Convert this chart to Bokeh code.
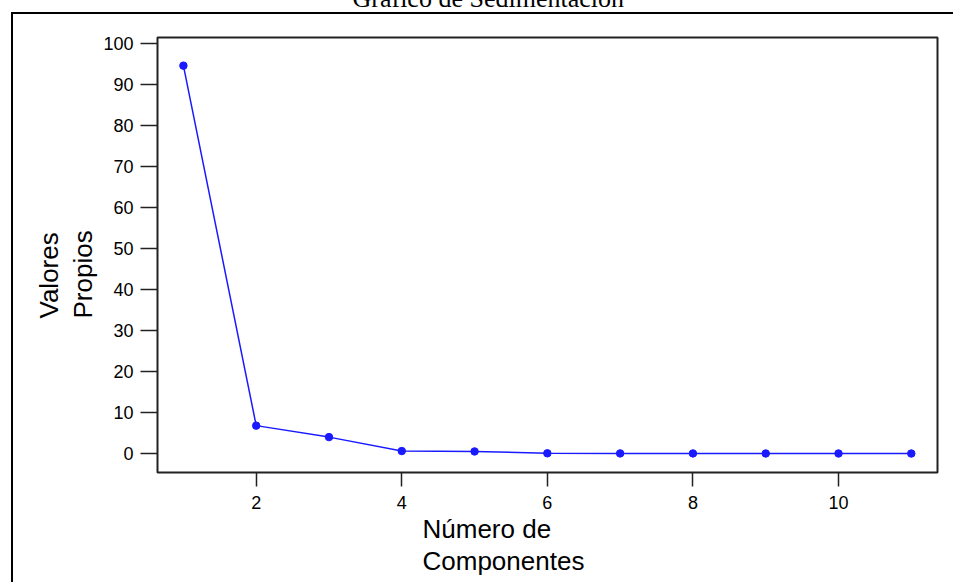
from bokeh.plotting import figure
from bokeh.models import Title, FixedTicker, Range1d
from bokeh.embed import file_html
from bokeh.resources import INLINE

# ---- data ----
components = [1, 2, 3, 4, 5, 6, 7, 8, 9, 10, 11]
eigenvalues = [94.6, 6.8, 4.0, 0.6, 0.5, 0.05, 0.03, 0.02, 0.01, 0.01, 0.0]
x_ticks = [2, 4, 6, 8, 10]
y_ticks = [0, 10, 20, 30, 40, 50, 60, 70, 80, 90, 100]
title_text = "Gráfico de Sedimentación"
xlabel_lines = ["Número de", "Componentes"]
ylabel_lines = ["Valores", "Propios"]

# ---- layout (canvas pixels) ----
SHIFT = 50  # canvas starts 50px above the window top
W, H = 953, 582 + SHIFT
FL, FR, FT, FB = 157, 937, 37 + SHIFT, 472 + SHIFT
X0, X1 = 0.644, 11.36
Y0, Y1 = -4.63, 101.46
BOX_L, BOX_T = 11, 12 + SHIFT  # outer frame lines (drawn as CSS background)

p = figure(width=W, height=H, output_backend="svg", toolbar_location=None,
           x_range=Range1d(X0, X1), y_range=Range1d(Y0, Y1),
           min_border_left=FL, min_border_right=W - FR,
           min_border_top=FT, min_border_bottom=H - FB,
           margin=(-SHIFT, 0, 0, 0))
p.background_fill_color = "white"
p.border_fill_color = None
p.styles = {
    "background-color": "white",
    "background-image": "linear-gradient(#000, #000), linear-gradient(#000, #000)",
    "background-size": "2px 3000px, 3000px 2px",
    "background-position": f"{BOX_L}px {BOX_T}px, {BOX_L}px {BOX_T}px",
    "background-repeat": "no-repeat",
}
p.outline_line_color = "#222222"
p.outline_line_width = 2
p.xgrid.visible = False
p.ygrid.visible = False

for ax, tout, stand in ((p.xaxis[0], 14, 9), (p.yaxis[0], 17, 7)):
    ax.axis_line_color = None
    ax.major_tick_in = 0
    ax.major_tick_out = tout
    ax.major_tick_line_color = "#222222"
    ax.major_tick_line_width = 1.5
    ax.minor_tick_line_color = None
    ax.major_label_standoff = stand
    ax.major_label_text_font = "Liberation Sans"
    ax.major_label_text_font_size = "18px"
    ax.major_label_text_color = "black"

p.xaxis[0].ticker = FixedTicker(ticks=x_ticks)
p.yaxis[0].ticker = FixedTicker(ticks=y_ticks)

p.line(components, eigenvalues, line_color="#1a1aff", line_width=1.5)
p.scatter(components, eigenvalues, marker="circle", size=7.5,
          fill_color="#1a1aff", line_color="#1a1aff")

# main title (mostly above the window)
p.title = Title(text=title_text, align="left", offset=352 - FL,
                standoff=49, text_font="Liberation Serif", text_font_size="26px",
                text_font_style="normal", text_color="black")

# x axis title lines (left aligned)
for i, t in enumerate(xlabel_lines):
    p.add_layout(Title(text=t, align="left", offset=422 - FL, standoff=0,
                       text_font="Liberation Sans", text_font_size="26px",
                       text_font_style="normal", text_color="black"), "below")

# y axis title lines (rotated); nearest to the axis first
for t, st in ((ylabel_lines[1], 5), (ylabel_lines[0], 0)):
    p.add_layout(Title(text=t, align="left", offset=472 - 318, standoff=st,
                       text_font="Liberation Sans", text_font_size="26px",
                       text_font_style="normal", text_color="black"), "left")

open("out.html", "w").write(file_html(p, INLINE))
